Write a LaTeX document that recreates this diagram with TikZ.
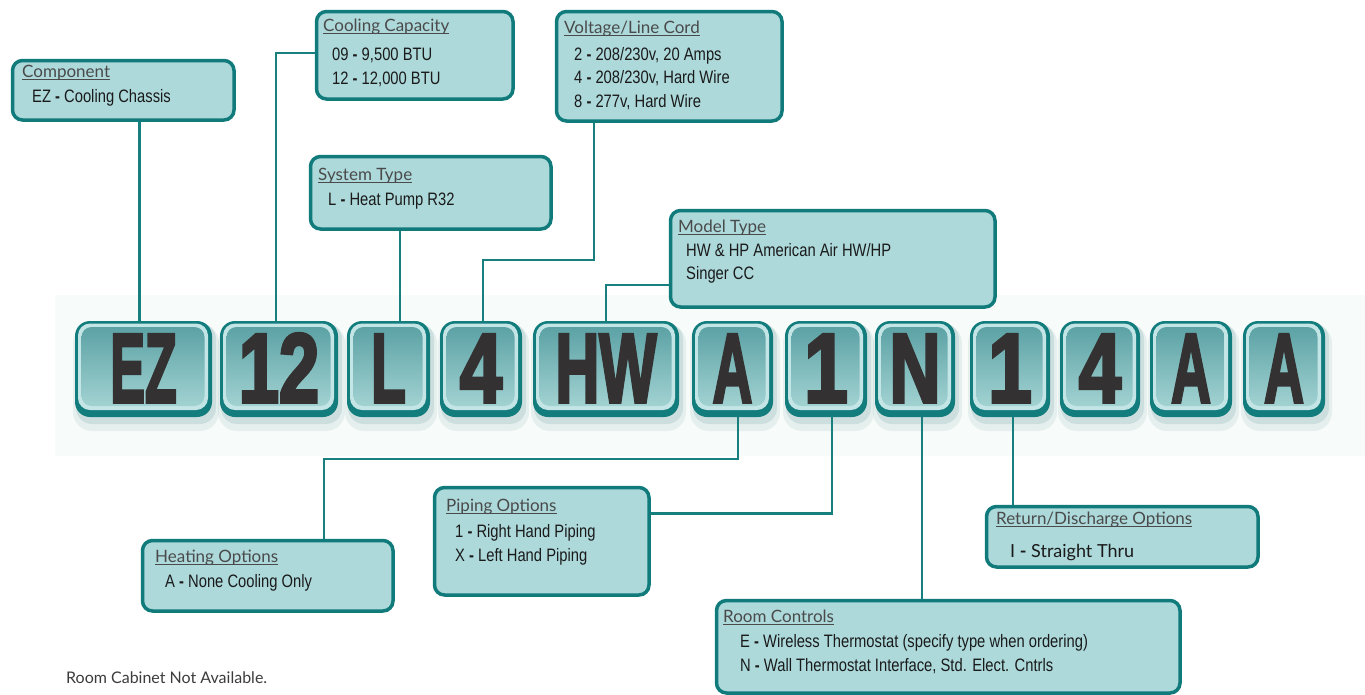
\documentclass[tikz,border=0pt]{standalone}
\usepackage{fontspec}
\setmainfont{Liberation Sans}
\newfontfamily\narrowf[FakeStretch=0.82]{Liberation Sans}
\newfontfamily\gillf{Lato}
\newfontfamily\tilef[FakeBold=3.6, BoldFeatures={FakeBold=3.6}]{Liberation Sans}
\newcommand\dsh{{\bfseries -}}
\definecolor{boxfill}{HTML}{ADD9DB}
\definecolor{boxline}{HTML}{117B7C}
\definecolor{conncol}{HTML}{17807F}
\definecolor{ttlcol}{HTML}{4A4A4A}
\definecolor{txtcol}{HTML}{1A1A1A}
\definecolor{bandcol}{HTML}{F7FBF9}
\definecolor{touter}{HTML}{137C7D}
\definecolor{tbevel}{HTML}{C4E5E6}
\definecolor{tfaceA}{HTML}{5CA2A5}
\definecolor{tfaceB}{HTML}{7CB9BB}
\definecolor{tfaceC}{HTML}{A2D2D2}
\definecolor{tshadow}{HTML}{4E8F90}
\definecolor{tiletext}{HTML}{333132}
\tikzset{
  box/.style={draw=boxline, line width=3.5pt, fill=boxfill, rounded corners=10pt, inner sep=0pt, anchor=north west},
  ttl/.style={font=\gillf\fontsize{17}{17}\selectfont, text=ttlcol, inner sep=0pt, anchor=base west},
  txt/.style={font=\narrowf\fontsize{18}{18}\selectfont, text=txtcol, inner sep=0pt, anchor=base west},
  gtxt/.style={font=\gillf\fontsize{18}{18}\selectfont, text=txtcol, inner sep=0pt, anchor=base west},
  ul/.style={draw=ttlcol, line width=0.9pt},
  conn/.style={draw=conncol, line width=2.5pt},
  tilefont/.style={font=\tilef\bfseries\fontsize{98}{98}\selectfont, text=tiletext, inner sep=0pt, anchor=base}
}
\newcommand\obox[5]{\node[box, minimum width={#4-#2-3.5}, minimum height={#5-#3-3.5}] (#1) at (#2+1.75,#3+1.75) {};}
\newcommand\otitle[4]{\node[ttl] (#1) at (#2,#3) {#4};
  \draw[ul] ([yshift=-2.5pt]#1.base west) -- ([yshift=-2.5pt]#1.base east);}
\newcommand\ctile[5]{%
  \fill[tshadow, opacity=.10, rounded corners=19pt] (#2-2,324) rectangle (#3+7,431);
  \fill[tshadow, opacity=.16, rounded corners=16pt] (#2+1,323) rectangle (#3+4,424);
  \fill[touter, rounded corners=15pt] (#2,321) rectangle (#3,417);
  \fill[tbevel, rounded corners=12pt] (#2+3,323.5) rectangle (#3-4,410);
  \shade[top color=tfaceA, middle color=tfaceB, bottom color=tfaceC, rounded corners=10pt] (#2+6.5,327) rectangle (#3-7.5,406);
  \node[inner sep=0pt, minimum width={#3-#2}, minimum height=96] (#1) at ({(#2+#3)/2},369) {};
  \node[tilefont] (#1x) at ({(#2+#3)/2},402) {\scalebox{#4}[1]{#5}};
}
\begin{document}
\begin{tikzpicture}[x=1pt,y=-1pt]
\useasboundingbox (0,0) rectangle (1365,694);
\fill[white] (0,0) rectangle (1365,694);
\fill[bandcol] (55,295) rectangle (1365,456);

% code tiles
\ctile{t1}{75}{212}{0.53}{EZ}
\ctile{t2}{220}{338}{0.74}{12}
\ctile{t3}{347}{430}{0.58}{L}
\ctile{t4}{440}{522}{0.78}{4}
\ctile{t5}{533}{679}{0.62}{HW}
\ctile{t6}{692}{773}{0.56}{A}
\ctile{t7}{785}{867}{0.80}{1}
\ctile{t8}{875}{955}{0.72}{N}
\ctile{t9}{970}{1050}{0.80}{1}
\ctile{t10}{1060}{1140}{0.78}{4}
\ctile{t11}{1150}{1232}{0.56}{A}
\ctile{t12}{1243}{1325}{0.56}{A}

% option boxes
\obox{comp}{9}{57}{234}{120}
\otitle{compT}{22}{77}{Component}
\node[txt] (compL1) at (32,102) {EZ \dsh{} Cooling Chassis};

\obox{cool}{313}{8}{513}{99}
\otitle{coolT}{323}{31}{Cooling Capacity}
\node[txt] (coolL1) at (332,60) {09 \dsh{} 9,500 BTU};
\node[txt] (coolL2) at (332,84) {12 \dsh{} 12,000 BTU};

\obox{sys}{307}{153}{551}{229}
\otitle{sysT}{318}{180}{System Type}
\node[txt] (sysL1) at (328,205) {L \dsh{} Heat Pump R32};

\obox{volt}{553}{8}{782}{121}
\otitle{voltT}{564}{33}{Voltage/Line Cord}
\node[txt] (voltL1) at (574,60) {2 \dsh{} 208/230v, 20 Amps};
\node[txt] (voltL2) at (574,83) {4 \dsh{} 208/230v, Hard Wire};
\node[txt] (voltL3) at (574,107) {8 \dsh{} 277v, Hard Wire};

\obox{model}{667}{207}{995}{307}
\otitle{modelT}{678}{232}{Model Type}
\node[txt] (modelL1) at (686,256) {HW \& HP American Air HW/HP};
\node[txt] (modelL2) at (686,279) {Singer CC};

\obox{heat}{139}{537}{393}{611}
\otitle{heatT}{155}{562}{Heating Options}
\node[txt] (heatL1) at (165,587) {A \dsh{} None Cooling Only};

\obox{pipe}{431}{484}{649}{595}
\otitle{pipeT}{446}{511}{Piping Options}
\node[txt] (pipeL1) at (455,537) {1 \dsh{} Right Hand Piping};
\node[txt] (pipeL2) at (455,561) {X \dsh{} Left Hand Piping};

\obox{room}{713}{597}{1180}{693}
\otitle{roomT}{723}{622}{Room Controls}
\node[txt] (roomL1) at (740,647) {E \dsh{} Wireless Thermostat (specify type when ordering)};
\node[txt] (roomL2) at (740,671) {N \dsh{} Wall Thermostat Interface, Std. Elect. Cntrls};

\obox{ret}{983}{503}{1258}{567}
\otitle{retT}{996}{524}{Return/Discharge Options}
\node[gtxt] (retL1) at (1010,557) {I \dsh{} Straight Thru};

% connectors
\draw[conn] ([xshift=-4pt]t1.north) -- ([xshift=-4pt]t1.north |- comp.south);
\draw[conn] ([xshift=-3pt]t2.north) |- ([yshift=2.5pt]cool.west);
\draw[conn] ([xshift=11.5pt]t3.north) -- ([xshift=11.5pt]t3.north |- sys.south);
\coordinate (vbend) at (594,260);
\draw[conn] (vbend |- volt.south) -- (vbend) -| ([xshift=2pt]t4.north);
\draw[conn] ([yshift=-26pt]model.west) -| (t5.north);
\coordinate (hbend) at (324,459);
\draw[conn] ([xshift=5.5pt]t6.south) |- (hbend) -- (hbend |- heat.north);
\draw[conn] ([xshift=6pt]t7.south) |- ([yshift=28pt]pipe.east);
\draw[conn] ([xshift=7pt]t8.south) -- ([xshift=7pt]t8.south |- room.north);
\draw[conn] ([xshift=3pt]t9.south) -- ([xshift=3pt]t9.south |- ret.north);

\node[font=\gillf\fontsize{16}{16}\selectfont, text=txtcol!85, inner sep=0pt, anchor=base west] (note) at (66,683) {Room Cabinet Not Available.};
\end{tikzpicture}
\end{document}
